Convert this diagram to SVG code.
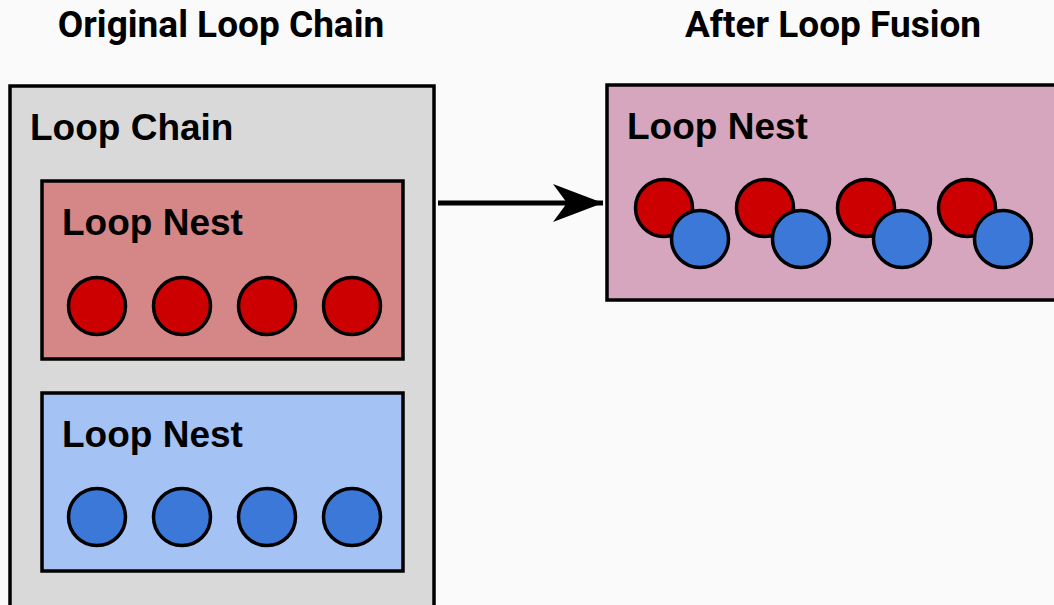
<svg xmlns="http://www.w3.org/2000/svg" width="1054" height="605" viewBox="0 0 1054 605">
<style>
.title{font-family:Roboto,"Liberation Sans",sans-serif;font-weight:bold;font-size:37px;fill:#000;text-anchor:middle}
.lbl{font-family:"Liberation Sans",Arial,sans-serif;font-weight:bold;font-size:37px;fill:#000}
.box{stroke:#000;stroke-width:3.5}
.red{fill:#cc0000;stroke:#000;stroke-width:3.5}
.blue{fill:#3c78d8;stroke:#000;stroke-width:3.5}
</style>
<defs>
<marker id="ah" markerUnits="userSpaceOnUse" markerWidth="52" markerHeight="40" refX="50" refY="20" orient="auto">
<path d="M50,20 L0,1 L14,20 L0,39 Z" fill="#000"/>
</marker>
</defs>
<rect width="1054" height="605" fill="#fafafa"/>
<text class="title" x="221" y="37">Original Loop Chain</text>
<text class="title" x="833" y="37">After Loop Fusion</text>
<g id="loop-chain">
<rect class="box" x="10" y="86" width="424" height="540" fill="#d9d9d9"/>
<text class="lbl" x="30" y="140">Loop Chain</text>
</g>
<g id="loop-nest-red">
<rect class="box" x="42" y="181" width="361" height="178" fill="#d58686"/>
<text class="lbl" x="62" y="235">Loop Nest</text>
<circle class="red" cx="97" cy="306" r="28.5"/>
<circle class="red" cx="182" cy="306" r="28.5"/>
<circle class="red" cx="267" cy="306" r="28.5"/>
<circle class="red" cx="352" cy="306" r="28.5"/>
</g>
<g id="loop-nest-blue">
<rect class="box" x="42" y="393" width="361" height="178" fill="#a4c2f4"/>
<text class="lbl" x="62" y="447">Loop Nest</text>
<circle class="blue" cx="97" cy="517" r="28.5"/>
<circle class="blue" cx="182" cy="517" r="28.5"/>
<circle class="blue" cx="267" cy="517" r="28.5"/>
<circle class="blue" cx="352" cy="517" r="28.5"/>
</g>
<g id="loop-nest-fused">
<rect class="box" x="607" y="85" width="460" height="215" fill="#d5a6bd"/>
<text class="lbl" x="627" y="139">Loop Nest</text>
<circle class="red" cx="664" cy="208" r="28.5"/>
<circle class="blue" cx="700" cy="239" r="28.5"/>
<circle class="red" cx="765" cy="208" r="28.5"/>
<circle class="blue" cx="801" cy="239" r="28.5"/>
<circle class="red" cx="866" cy="208" r="28.5"/>
<circle class="blue" cx="902" cy="239" r="28.5"/>
<circle class="red" cx="967" cy="208" r="28.5"/>
<circle class="blue" cx="1003" cy="239" r="28.5"/>
</g>
<g id="connectors">
<line x1="438" y1="203" x2="603" y2="203" stroke="#000" stroke-width="5" marker-end="url(#ah)"/>
</g>
</svg>
